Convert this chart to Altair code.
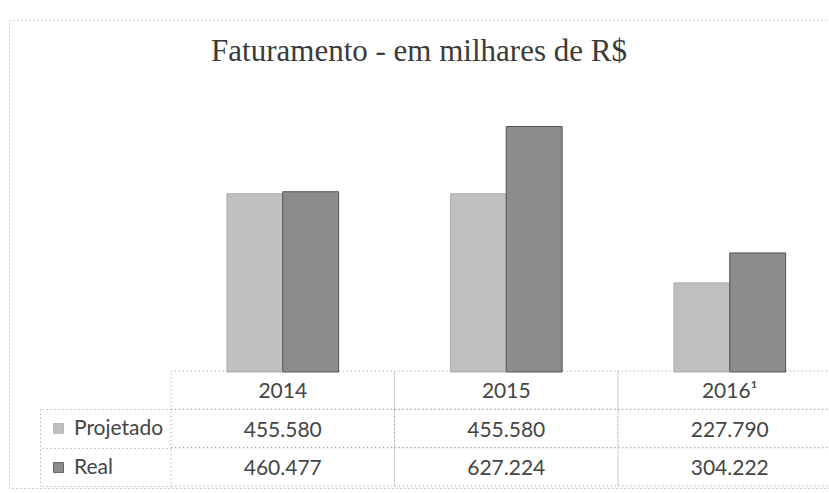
import altair as alt
import pandas as pd

# ---- data ----
anos = ["2014", "2015", "2016¹"]
series = ["Projetado", "Real"]
projetado = [455580, 455580, 227790]
real = [460477, 627224, 304222]
linhas = ["Ano", "Projetado", "Real"]

bars_df = pd.DataFrame({
    "ano": anos * 2,
    "serie": [series[0]] * len(anos) + [series[1]] * len(anos),
    "valor": projetado + real,
})


def fmt(v):
    return f"{v:,}".replace(",", ".")


rows = [{"ano": a, "linha": "Ano", "texto": a} for a in anos]
for s, vals in zip(series, [projetado, real]):
    for a, v in zip(anos, vals):
        rows.append({"ano": a, "linha": s, "texto": fmt(v)})
table_df = pd.DataFrame(rows)
label_df = pd.DataFrame({"linha": series})

# ---- layout constants (pixels, view coords) ----
X_RANGE = [162, 832.5]
Y_BAR_RANGE = [352, 78]
Y_TAB_RANGE = [351, 466]
row_h = (Y_TAB_RANGE[1] - Y_TAB_RANGE[0]) / 3
Y_LAB_RANGE = [Y_TAB_RANGE[0] + row_h, Y_TAB_RANGE[1]]

GRID = "#9c9c9c"
DASH = [1, 3]
TXT = "#454545"
FONT = "Lato"

bars = alt.Chart(bars_df).mark_bar(strokeWidth=1).encode(
    x=alt.X("ano:N", sort=anos, axis=None,
            scale=alt.Scale(domain=anos, range=X_RANGE, paddingInner=0.5, paddingOuter=0.25)),
    xOffset=alt.XOffset("serie:N", sort=series,
                        scale=alt.Scale(domain=series, paddingInner=0, paddingOuter=0)),
    y=alt.Y("valor:Q", axis=None,
            scale=alt.Scale(domain=[0, 700000], range=Y_BAR_RANGE, nice=False)),
    color=alt.Color("serie:N",
                    scale=alt.Scale(domain=series, range=["#bfbfbf", "#8c8c8c"]),
                    legend=alt.Legend(orient="none", legendX=39, legendY=398, title=None,
                                      symbolType="square", symbolSize=100,
                                      symbolStrokeColor="#6a6a6a", symbolStrokeWidth=0.8,
                                      labelFont=FONT, labelFontSize=21, labelColor=TXT,
                                      rowPadding=17, labelOffset=5, padding=0)),
    stroke=alt.Stroke("serie:N",
                      scale=alt.Scale(domain=series, range=["#b0b0b0", "#505050"]),
                      legend=None),
)

x_tab = alt.X("ano:N", sort=anos, axis=None,
              scale=alt.Scale(domain=anos, range=X_RANGE, paddingInner=0, paddingOuter=0))
y_tab = alt.Y("linha:N", sort=linhas, axis=None,
              scale=alt.Scale(domain=linhas, range=Y_TAB_RANGE, paddingInner=0, paddingOuter=0))

cells = alt.Chart(table_df).mark_rect(
    fillOpacity=0, stroke=GRID, strokeDash=DASH, strokeWidth=1
).encode(x=x_tab, y=y_tab)

texts = alt.Chart(table_df).mark_text(
    font=FONT, fontSize=21, color=TXT, dy=2
).encode(x=x_tab, y=y_tab, text="texto:N")

table = alt.layer(cells, texts)

lab_ticks = alt.Chart(label_df).mark_text(text="", opacity=0).encode(
    y=alt.Y("linha:N", sort=series,
            scale=alt.Scale(domain=series, range=Y_LAB_RANGE, paddingInner=0, paddingOuter=0),
            axis=alt.Axis(orient="left", offset=-162, labels=False, domain=False,
                          ticks=True, tickSize=131, tickBand="extent", tickColor=GRID,
                          tickDash=DASH, tickWidth=1, grid=False, title=None))
)

lab_frame = alt.Chart(label_df).mark_text(text="", opacity=0).encode(
    y=alt.Y("linha:N", sort=series,
            scale=alt.Scale(domain=series, range=Y_LAB_RANGE, paddingInner=0, paddingOuter=0),
            axis=alt.Axis(orient="left", offset=-31, labels=False, domain=True,
                          domainColor=GRID, domainDash=DASH, domainWidth=1,
                          ticks=False, grid=False, title=None))
)

chart = alt.layer(bars, table, lab_ticks, lab_frame).resolve_scale(
    x="independent", y="independent"
).properties(
    width=820,
    height=468,
    autosize=alt.AutoSizeParams(type="none"),
    padding={"left": 9, "top": 20, "right": 0, "bottom": 5},
    title=alt.TitleParams("Faturamento - em milhares de R$", font="Liberation Serif",
                          fontSize=31, fontWeight="normal", color="#3a3a3a",
                          anchor="middle", baseline="alphabetic", offset=0, dy=72),
    background="white",
).configure_view(stroke=GRID, strokeDash=DASH, strokeWidth=1)

chart.save("out.html", embed_options={"renderer": "svg", "actions": False})
